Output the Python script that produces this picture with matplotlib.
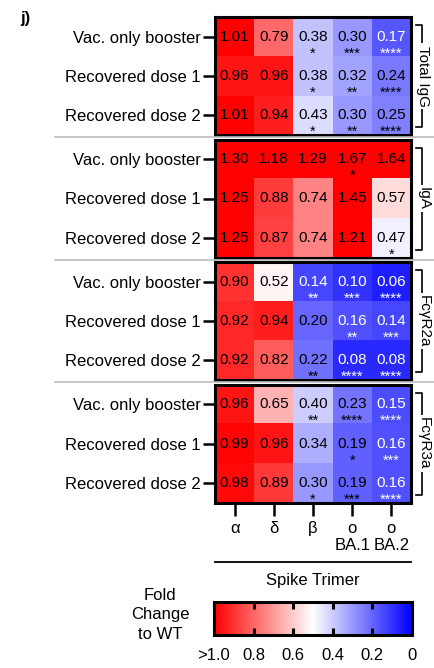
import numpy as np
import matplotlib
matplotlib.use("Agg")
import matplotlib.pyplot as plt
from matplotlib.lines import Line2D
from matplotlib.cm import ScalarMappable
from matplotlib.colors import Normalize

plt.rcParams['font.family'] = ['Liberation Sans', 'DejaVu Sans']

# data
rows = ["Vac. only booster", "Recovered dose 1", "Recovered dose 2"]
variants = ["α", "δ", "β", "ο\nBA.1", "ο\nBA.2"]
panels = ["Total IgG", "IgA", "FcγR2a", "FcγR3a"]

igg = [[1.01, 0.79, 0.38, 0.30, 0.17],
       [0.96, 0.96, 0.38, 0.32, 0.24],
       [1.01, 0.94, 0.43, 0.30, 0.25]]
igg_stars = [["", "", "*", "***", "****"],
             ["", "", "*", "**", "****"],
             ["", "", "*", "**", "****"]]

iga = [[1.30, 1.18, 1.29, 1.67, 1.64],
       [1.25, 0.88, 0.74, 1.45, 0.57],
       [1.25, 0.87, 0.74, 1.21, 0.47]]
iga_stars = [["", "", "", "*", ""],
             ["", "", "", "", ""],
             ["", "", "", "", "*"]]

r2a = [[0.90, 0.52, 0.14, 0.10, 0.06],
       [0.92, 0.94, 0.20, 0.16, 0.14],
       [0.92, 0.82, 0.22, 0.08, 0.08]]
r2a_stars = [["", "", "**", "***", "****"],
             ["", "", "", "**", "***"],
             ["", "", "**", "****", "****"]]

r3a = [[0.96, 0.65, 0.40, 0.23, 0.15],
       [0.99, 0.96, 0.34, 0.19, 0.16],
       [0.98, 0.89, 0.30, 0.19, 0.16]]
r3a_stars = [["", "", "**", "****", "****"],
             ["", "", "", "*", "***"],
             ["", "", "*", "***", "****"]]

cbar_ticks = [1.0, 0.8, 0.6, 0.4, 0.2, 0.0]
cbar_labels = [">1.0", "0.8", "0.6", "0.4", "0.2", "0"]

W, H = 434, 668
fig = plt.figure(figsize=(W / 100, H / 100), dpi=100)


def box(x0, y0, x1, y1):
    # pixel box (top-left origin) -> figure fraction
    return [x0 / W, 1 - y1 / H, (x1 - x0) / W, (y1 - y0) / H]


vals = [igg, iga, r2a, r3a]
stars = [igg_stars, iga_stars, r2a_stars, r3a_stars]
tops = [17, 139.5, 262, 384.5]
bh = 118
L, R = 215, 411

for k in range(4):
    ax = fig.add_axes(box(L, tops[k], R, tops[k] + bh))
    data = np.array(vals[k])
    ax.imshow(data, cmap='bwr', vmin=0, vmax=1, aspect='auto', interpolation='nearest')
    for i in range(3):
        for j in range(5):
            v = data[i, j]
            c = 'white' if v < 0.18 else 'black'
            ax.text(j, i, f"{v:.2f}", ha='center', va='center', fontsize=11, color=c)
            if stars[k][i][j]:
                ax.text(j, i + 0.53, stars[k][i][j], ha='center', va='baseline',
                        fontsize=10.5, color=c)
    for s in ax.spines.values():
        s.set_linewidth(2.2)
    ax.set_yticks(range(3))
    ax.set_yticklabels(rows)
    ax.tick_params(axis='y', length=8.5, width=1.8, pad=2, labelsize=12)
    if k == 3:
        ax.set_xticks(range(5))
        ax.set_xticklabels(variants)
        ax.tick_params(axis='x', length=9.5, width=1.8, pad=4, labelsize=12)
        for lbl in ax.get_xticklabels():
            lbl.set_linespacing(1.15)
    else:
        ax.set_xticks([])

    # right-hand bracket with panel name
    tr = ax.transAxes
    xb = (422 - L) / (R - L)
    xt = (416 - L) / (R - L)
    y0, y1 = 8 / bh, 1 - 8 / bh
    ax.add_line(Line2D([xt, xb, xb, xt], [y1, y1, y0, y0], transform=tr,
                       color='black', lw=1.2, clip_on=False))
    ax.text((423.5 - L) / (R - L), 0.5, panels[k], transform=tr, rotation=270,
            ha='center', va='center', fontsize=11,
            bbox=dict(facecolor='white', edgecolor='none', pad=1.5))

# grey separators between blocks
for k in range(3):
    ys = 1 - (tops[k] + bh + tops[k + 1]) / 2 / H
    fig.add_artist(Line2D([55 / W, 434 / W], [ys, ys], color='#bdbdbd', lw=1.2))

# spike trimer line and label
fig.add_artist(Line2D([L / W, R / W], [1 - 562 / H, 1 - 562 / H], color='black', lw=1.3))
fig.text((L + R) / 2 / W, 1 - 580 / H, "Spike Trimer", ha='center', va='center', fontsize=12)

# colour bar
cax = fig.add_axes(box(214, 602, 412, 635))
sm = ScalarMappable(norm=Normalize(0, 1), cmap='bwr')
cb = fig.colorbar(sm, cax=cax, orientation='horizontal')
cax.invert_xaxis()
cb.set_ticks(cbar_ticks)
cb.set_ticklabels(cbar_labels)
cb.outline.set_linewidth(2.2)
cax.tick_params(direction='in', top=True, bottom=True, length=5, width=2.2,
                pad=9, labelsize=12)

fig.text(160 / W, 1 - 615 / H, "Fold\nChange\nto WT", ha='center', va='center',
         fontsize=12, linespacing=1.4)

fig.text(20 / W, 1 - 18 / H, "j)", ha='left', va='center', fontsize=12, fontweight='bold')

fig.savefig("out.png", dpi=100)
